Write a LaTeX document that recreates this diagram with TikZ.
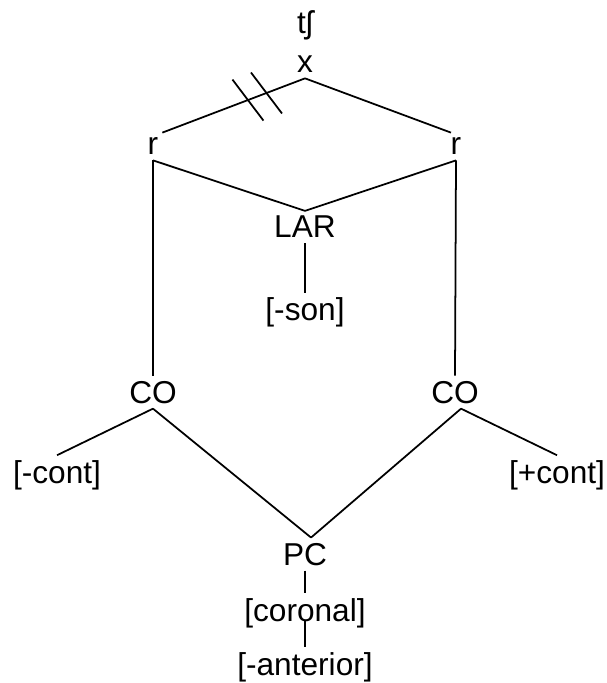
\documentclass[tikz,border=0pt]{standalone}
\usepackage{fontspec}
\setmainfont{Liberation Sans}
\usetikzlibrary{calc}
\usetikzlibrary{positioning}

\begin{document}
\begin{tikzpicture}[
    feat/.style={inner sep=0.1cm, anchor=base, font=\fontsize{18}{22}\selectfont},
    link/.style={line width=1pt}
  ]
    \useasboundingbox (0,0) rectangle (12.12,-13.66);

    \node [feat, anchor=center] (seg) at (6.10,-0.50) {tʃ};
    \node [feat] (x) at (6.10,-1.46) {x};
    \node [feat] (rootl) at (3.06,-3.10) {r};
    \node [feat] (rootr) at (9.12,-3.10) {r};
    \node [feat] (lar) at (6.10,-4.76) {LAR};
    \node [feat] (son) at (6.10,-6.42) {[-son]};
    \node [feat] (col) at (3.06,-8.06) {CO};
    \node [feat] (cor) at (9.10,-8.06) {CO};
    \node [feat] (contl) at (1.14,-9.67) {[-cont]};
    \node [feat] (contr) at (11.14,-9.67) {[+cont]};
    \node [feat] (pc) at (6.10,-11.30) {PC};
    \node [feat] (coronal) at (6.10,-12.42) {[coronal]};
    \node [feat] (anterior) at (6.10,-13.50) {[-anterior]};

    \draw [link] (x.south) -- (rootl.56);
    \draw [link] (x.south) -- (rootr.110);
    \path (x.south) -- (rootl.56) coordinate[pos=0.27] (hasha) coordinate[pos=0.40] (hashb);
    \draw [link] ($(hasha)+(-0.31,0.41)$) -- ($(hasha)+(0.31,-0.41)$);
    \draw [link] ($(hashb)+(-0.31,0.41)$) -- ($(hashb)+(0.31,-0.41)$);
    \draw [link] (rootl.south) -- (lar.north);
    \draw [link] (rootr.south) -- (lar.north);
    \draw [link] (lar.south) -- (son.north);
    \draw [link] (rootl.south) -- (col.north);
    \draw [link] (rootr.south) -- (cor.north);
    \draw [link] (col.south) -- (contl.north);
    \draw [link] (cor.-70) -- (contr.north);
    \draw [link] (col.south) -- (pc.70);
    \draw [link] (cor.-70) -- (pc.70);
    \draw [link] (pc.south) -- (coronal.north);
    \draw [link] (coronal.base) -- (anterior.north);
\end{tikzpicture}
\end{document}
